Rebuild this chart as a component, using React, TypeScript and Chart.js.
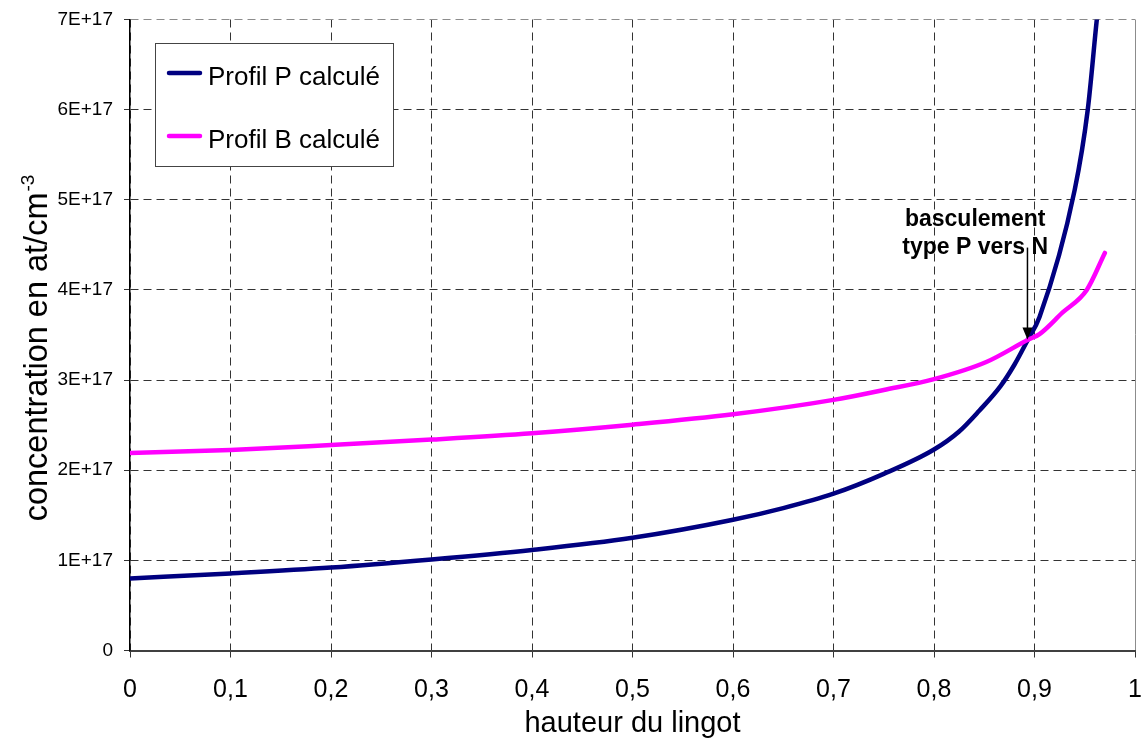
import React, { useEffect, useRef } from 'react';
import { Chart, registerables } from 'chart.js';

Chart.register(...registerables);

const FONT = '"Liberation Sans", Arial, Helvetica, sans-serif';

const X_TICK_LABELS = ['0', '0,1', '0,2', '0,3', '0,4', '0,5', '0,6', '0,7', '0,8', '0,9', '1'];
const Y_TICK_LABELS = ['0', '1E+17', '2E+17', '3E+17', '4E+17', '5E+17', '6E+17', '7E+17'];

const SERIES_P_LABEL = 'Profil P calculé';
const SERIES_P_X = [0, 0.1, 0.2, 0.3, 0.4, 0.5, 0.6, 0.65, 0.7, 0.75, 0.8, 0.825, 0.845, 0.866, 0.88, 0.893, 0.905, 0.94, 0.953, 0.962, 0.97];
const SERIES_P_Y = [0.80e17, 0.855e17, 0.92e17, 1.01e17, 1.115e17, 1.25e17, 1.45e17, 1.58e17, 1.74e17, 1.96e17, 2.23e17, 2.43e17, 2.66e17, 2.93e17, 3.17e17, 3.44e17, 3.70e17, 5.11e17, 6.0e17, 7.0e17, 7.8e17];

const SERIES_B_LABEL = 'Profil B calculé';
const SERIES_B_X = [0, 0.1, 0.2, 0.3, 0.4, 0.5, 0.6, 0.7, 0.75, 0.8, 0.852, 0.894, 0.905, 0.928, 0.952, 0.97];
const SERIES_B_Y = [2.19e17, 2.225e17, 2.28e17, 2.34e17, 2.41e17, 2.505e17, 2.62e17, 2.78e17, 2.89e17, 3.01e17, 3.20e17, 3.45e17, 3.51e17, 3.75e17, 4.0e17, 4.41e17];

const X_TITLE = 'hauteur du lingot';
const Y_TITLE = 'concentration en at/cm';
const Y_TITLE_SUP = '-3';

const ANNOTATION_LINES = ['basculement', 'type P vers N'];
const ANNOTATION_TEXT_X = 0.841;
const ANNOTATION_TEXT_Y = [4.71e17, 4.40e17];
const ARROW_X = 0.893;
const ARROW_FROM = 4.47e17;
const ARROW_TO = 3.45e17;

const COLOR_P = '#000080';
const COLOR_B = '#FF00FF';

const overlayPlugin = {
  id: 'overlay',
  afterDraw(chart: any) {
    const { ctx, chartArea, scales } = chart;
    const xs = scales.x;
    const ys = scales.y;
    ctx.save();

    // Y title with superscript
    ctx.fillStyle = '#000';
    ctx.font = `32.5px ${FONT}`;
    const mainW = ctx.measureText(Y_TITLE).width;
    ctx.font = `19px ${FONT}`;
    const supW = ctx.measureText(Y_TITLE_SUP).width;
    const total = mainW + 1 + supW;
    const cy = (chartArea.top + chartArea.bottom) / 2 + 13;
    ctx.save();
    ctx.translate(47, cy + total / 2);
    ctx.rotate(-Math.PI / 2);
    ctx.textAlign = 'left';
    ctx.textBaseline = 'alphabetic';
    ctx.font = `32.5px ${FONT}`;
    ctx.fillText(Y_TITLE, 0, 0);
    ctx.font = `19px ${FONT}`;
    ctx.fillText(Y_TITLE_SUP, mainW + 1, -13);
    ctx.restore();

    // Legend
    const lx = chartArea.left + 25;
    const ly = chartArea.top + 23.5;
    const lw = 238;
    const lh = 123;
    ctx.fillStyle = '#fff';
    ctx.fillRect(lx, ly, lw, lh);
    ctx.strokeStyle = '#444';
    ctx.lineWidth = 1;
    ctx.setLineDash([]);
    ctx.strokeRect(Math.round(lx) + 0.5, Math.round(ly) + 0.5, lw, lh);
    const rows = [30, 93];
    chart.data.datasets.forEach((ds: any, i: number) => {
      const yy = ly + rows[i];
      ctx.strokeStyle = ds.borderColor;
      ctx.lineWidth = 4.5;
      ctx.lineCap = 'round';
      ctx.beginPath();
      ctx.moveTo(lx + 14, yy);
      ctx.lineTo(lx + 45, yy);
      ctx.stroke();
      ctx.fillStyle = '#000';
      ctx.font = `26px ${FONT}`;
      ctx.textAlign = 'left';
      ctx.textBaseline = 'alphabetic';
      ctx.fillText(ds.label, lx + 53, yy + 12);
    });

    // Annotation
    ctx.fillStyle = '#000';
    ctx.font = `bold 23px ${FONT}`;
    ctx.textAlign = 'center';
    ctx.textBaseline = 'alphabetic';
    ANNOTATION_LINES.forEach((t, i) => {
      ctx.fillText(t, xs.getPixelForValue(ANNOTATION_TEXT_X), ys.getPixelForValue(ANNOTATION_TEXT_Y[i]));
    });
    const ax = xs.getPixelForValue(ARROW_X);
    const ay1 = ys.getPixelForValue(ARROW_FROM);
    const ay2 = ys.getPixelForValue(ARROW_TO);
    ctx.strokeStyle = '#000';
    ctx.lineWidth = 1.5;
    ctx.lineCap = 'butt';
    ctx.beginPath();
    ctx.moveTo(ax, ay1);
    ctx.lineTo(ax, ay2 - 10);
    ctx.stroke();
    ctx.beginPath();
    ctx.moveTo(ax, ay2);
    ctx.lineTo(ax - 5, ay2 - 12);
    ctx.lineTo(ax + 5, ay2 - 12);
    ctx.closePath();
    ctx.fill();

    ctx.restore();
  },
};

export default function App() {
  const ref = useRef<HTMLCanvasElement | null>(null);

  useEffect(() => {
    if (!ref.current) return;
    Chart.defaults.font.family = FONT;
    Chart.defaults.color = '#000';
    const chart = new Chart(ref.current, {
      type: 'line',
      data: {
        datasets: [
          {
            label: SERIES_P_LABEL,
            data: SERIES_P_X.map((x, i) => ({ x, y: SERIES_P_Y[i] })),
            borderColor: COLOR_P,
            backgroundColor: COLOR_P,
            borderWidth: 4.5,
            pointRadius: 0,
            cubicInterpolationMode: 'monotone',
            borderCapStyle: 'round',
            borderJoinStyle: 'round',
            order: 1,
          },
          {
            label: SERIES_B_LABEL,
            data: SERIES_B_X.map((x, i) => ({ x, y: SERIES_B_Y[i] })),
            borderColor: COLOR_B,
            backgroundColor: COLOR_B,
            borderWidth: 4.5,
            pointRadius: 0,
            cubicInterpolationMode: 'monotone',
            borderCapStyle: 'round',
            borderJoinStyle: 'round',
            order: 0,
          },
        ],
      },
      options: {
        responsive: false,
        maintainAspectRatio: false,
        animation: false,
        layout: { padding: { top: 19.5, right: 6, bottom: 0, left: 0 } },
        plugins: {
          legend: { display: false },
          tooltip: { enabled: false },
          title: { display: false },
        },
        scales: {
          x: {
            type: 'linear',
            min: 0,
            max: 1,
            afterFit: (s: any) => {
              s.height = 87.5;
              s.paddingLeft = 0;
              s.paddingRight = 0;
            },
            ticks: {
              stepSize: 0.1,
              padding: 18,
              font: { size: 25 },
              color: '#000',
              callback: (v: any) => X_TICK_LABELS[Math.round(Number(v) * 10)],
            },
            grid: {
              color: (c: any) => (c.tick && Math.abs(c.tick.value - 1) < 1e-9 ? '#8c8c8c' : '#333'),
              lineWidth: 1,
              tickLength: 7,
              tickColor: '#333',
              tickBorderDash: [],
            },
            border: {
              display: true,
              color: '#404040',
              width: 2,
              dash: (c: any) => (c.tick && Math.abs(c.tick.value - 1) < 1e-9 ? [] : [8, 5]),
            },
            title: {
              display: true,
              text: X_TITLE,
              font: { size: 29 },
              color: '#000',
              padding: { top: 0, bottom: -3 },
            },
          },
          y: {
            type: 'linear',
            min: 0,
            max: 7e17,
            afterFit: (s: any) => {
              s.width = 130;
              s.paddingTop = 0;
              s.paddingBottom = 0;
            },
            ticks: {
              stepSize: 1e17,
              padding: 11,
              font: { size: 19 },
              color: '#000',
              callback: (v: any) => Y_TICK_LABELS[Math.round(Number(v) / 1e17)],
            },
            grid: {
              color: (c: any) => (c.tick && Math.abs(c.tick.value - 7e17) < 1e6 ? '#8c8c8c' : '#333'),
              lineWidth: 1,
              tickLength: 6,
              tickColor: '#333',
              tickBorderDash: [],
            },
            border: {
              display: true,
              color: '#000',
              width: 1.5,
              dash: [8, 5],
            },
          },
        },
      },
      plugins: [overlayPlugin],
    } as any);
    return () => chart.destroy();
  }, []);

  return (
    <div style={{ position: 'absolute', left: 0, top: 0, width: 1141, height: 738, background: '#fff' }}>
      <canvas ref={ref} width={1141} height={738} />
    </div>
  );
}
